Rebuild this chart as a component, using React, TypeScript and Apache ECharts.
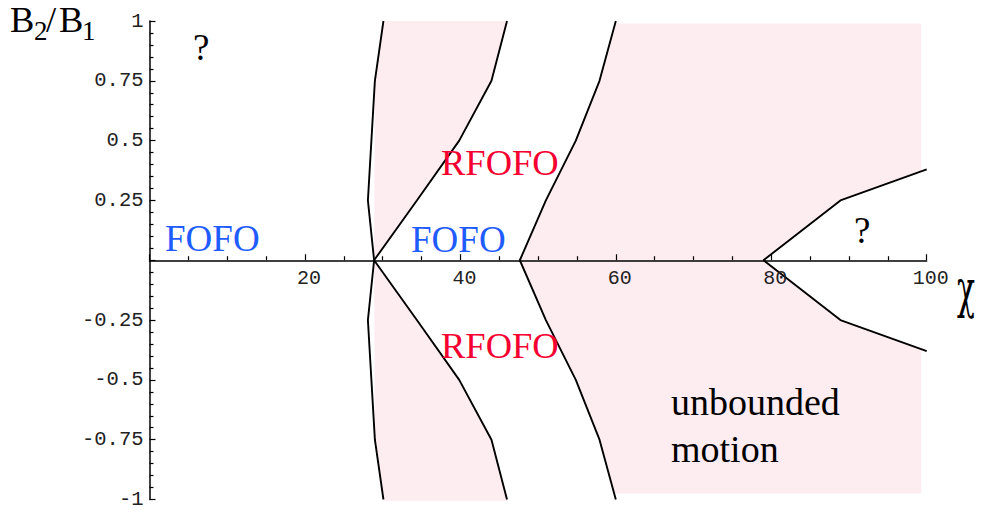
import React, { useEffect, useRef } from 'react';
import * as echarts from 'echarts';

// Boundary curves, sampled at these B2/B1 levels
const yLevels = [-1, -0.75, -0.5, -0.25, 0, 0.25, 0.5, 0.75, 1];
const leftCurveX = [30.1, 29.0, 28.55, 28.1, 28.9, 28.1, 28.55, 29.0, 30.1];
const middleCurveX = [46.0, 44.0, 39.85, 34.4, 28.9, 34.4, 39.85, 44.0, 46.0];
const rightCurveX = [60.0, 57.9, 54.85, 51.0, 47.65, 51.0, 54.85, 57.9, 60.0];

// Wedge bounding the "?" region at large chi
const wedgeX = [100, 88.9, 79, 88.9, 100];
const wedgeY = [-0.38, -0.25, 0, 0.25, 0.38];

// Shaded (RFOFO) band
const shadeAX = [30.1, 29.0, 28.9, 29.0, 30.1, 46.0, 44.0, 39.85, 28.9, 39.85, 44.0, 46.0];
const shadeAY = [1, 0.75, 0, -0.75, -1.005, -1.005, -0.75, -0.5, 0, 0.5, 0.75, 1];

// Shaded unbounded-motion region
const shadeBX = [59.92, 99.3, 99.3, 88.9, 79, 88.9, 99.3, 99.3, 59.79, 57.9, 54.85, 51.0, 47.65, 51.0, 54.85, 57.9];
const shadeBY = [0.99, 0.99, 0.372, 0.25, 0, -0.25, -0.372, -0.975, -0.975, -0.75, -0.5, -0.25, 0, 0.25, 0.5, 0.75];

const xTickLabels = ['20', '40', '60', '80', '100'];
const yTickLabels = ['-1', '-0.75', '-0.5', '-0.25', '0.25', '0.5', '0.75', '1'];

const PINK = '#fdecf0';
const RED = '#f50030';
const BLUE = '#1f5cff';
const SERIF = '"Liberation Serif", "Times New Roman", serif';
const MONO = '"Liberation Mono", monospace';

const W = 983;
const H = 515;
const GRID = { left: 149.5, right: 56.3, top: 21, bottom: 15.5 };

const zip = (xs: number[], ys: number[]) => xs.map((x, i) => [x, ys[i]]);

function txt(text: string, x: number, y: number, size: number, fill: string, extra: any = {}, family = SERIF) {
  return {
    type: 'text',
    x,
    y,
    z: 100,
    ...extra,
    style: {
      text,
      fill,
      font: `${size}px ${family}`,
      lineHeight: Math.round(size * 0.8),
      textAlign: 'left',
      textVerticalAlign: 'middle',
      align: 'left',
      verticalAlign: 'middle',
    },
  };
}

export default function App() {
  const ref = useRef<HTMLDivElement>(null);
  useEffect(() => {
    document.body.style.margin = '0';
    const chart = echarts.init(ref.current!, undefined, { renderer: 'svg' });
    const polygons = [zip(shadeAX, shadeAY), zip(shadeBX, shadeBY)];
    const lineStyle = { color: '#000', width: 1.9 };
    const lineSeries = (name: string, data: number[][]) => ({
      name,
      type: 'line',
      data,
      showSymbol: false,
      symbol: 'none',
      lineStyle,
      z: 5,
      silent: true,
    });
    const plotH = H - GRID.top - GRID.bottom;
    // x axis crosses at B2/B1 = 0, i.e. half way up the plot
    const xOffset = -plotH / 2;
    chart.setOption({
      animation: false,
      grid: { ...GRID, containLabel: false, outerBoundsMode: 'none' },
      xAxis: {
        type: 'value',
        min: 0,
        max: 100,
        interval: 20,
        position: 'bottom',
        offset: xOffset,
        axisLine: { onZero: false, lineStyle: { color: '#000', width: 1.5 } },
        axisTick: { inside: true, length: 6, lineStyle: { color: '#000', width: 1.2 } },
        minorTick: { show: true, splitNumber: 4, length: 4, lineStyle: { color: '#000', width: 1.2 } },
        splitLine: { show: false },
        axisLabel: {
          margin: 8,
          fontFamily: MONO,
          fontSize: 20,
          color: '#222',
          padding: [0, 0, 0, 8],
          formatter: (v: number) => (xTickLabels.includes(String(v)) ? String(v) : ''),
        },
        z: 10,
      },
      yAxis: {
        type: 'value',
        min: -1,
        max: 1,
        interval: 0.25,
        axisLine: { show: true, onZero: false, lineStyle: { color: '#000', width: 1.5 } },
        axisTick: { show: true, inside: true, length: 6, lineStyle: { color: '#000', width: 1.2 } },
        minorTick: { show: true, splitNumber: 5, length: 4, lineStyle: { color: '#000', width: 1.2 } },
        splitLine: { show: false },
        axisLabel: {
          margin: 6,
          fontFamily: MONO,
          fontSize: 20.5,
          color: '#222',
          formatter: (v: number) => {
            const s = String(Math.round(v * 100) / 100);
            return yTickLabels.includes(s) ? s : '';
          },
        },
        z: 10,
      },
      series: [
        {
          type: 'custom',
          z: 1,
          silent: true,
          data: [[0, 0], [1, 0]],
          renderItem: (params: any, api: any) => {
            const pts = polygons[params.dataIndex].map((p) => api.coord(p));
            return { type: 'polygon', shape: { points: pts }, style: { fill: PINK, stroke: 'none' } };
          },
        },
        lineSeries('left', zip(leftCurveX, yLevels)),
        lineSeries('middle', zip(middleCurveX, yLevels)),
        lineSeries('right', zip(rightCurveX, yLevels)),
        lineSeries('wedge', zip(wedgeX, wedgeY)),
      ],
      graphic: [
        txt('B', 10, 19, 36.5, '#000'),
        txt('2', 34, 31, 27, '#000'),
        txt('/', 46, 19, 36.5, '#000'),
        txt('B', 59, 19, 36.5, '#000'),
        txt('1', 82, 31, 27, '#000'),
        txt('χ', 957, 289, 52, '#000', { scaleX: 0.57 }, '"DejaVu Serif", serif'),
        txt('?', 193, 47, 37, '#000'),
        txt('?', 854, 230, 37, '#000'),
        txt('FOFO', 165, 238, 37, BLUE),
        txt('FOFO', 411, 239, 37, BLUE),
        txt('RFOFO', 441, 162, 36.5, RED),
        txt('RFOFO', 441, 345, 36.5, RED),
        txt('unbounded', 671, 402, 38, '#000'),
        txt('motion', 671, 449, 38, '#000'),
      ],
    });
    return () => chart.dispose();
  }, []);
  return <div ref={ref} style={{ width: W, height: H }} />;
}
